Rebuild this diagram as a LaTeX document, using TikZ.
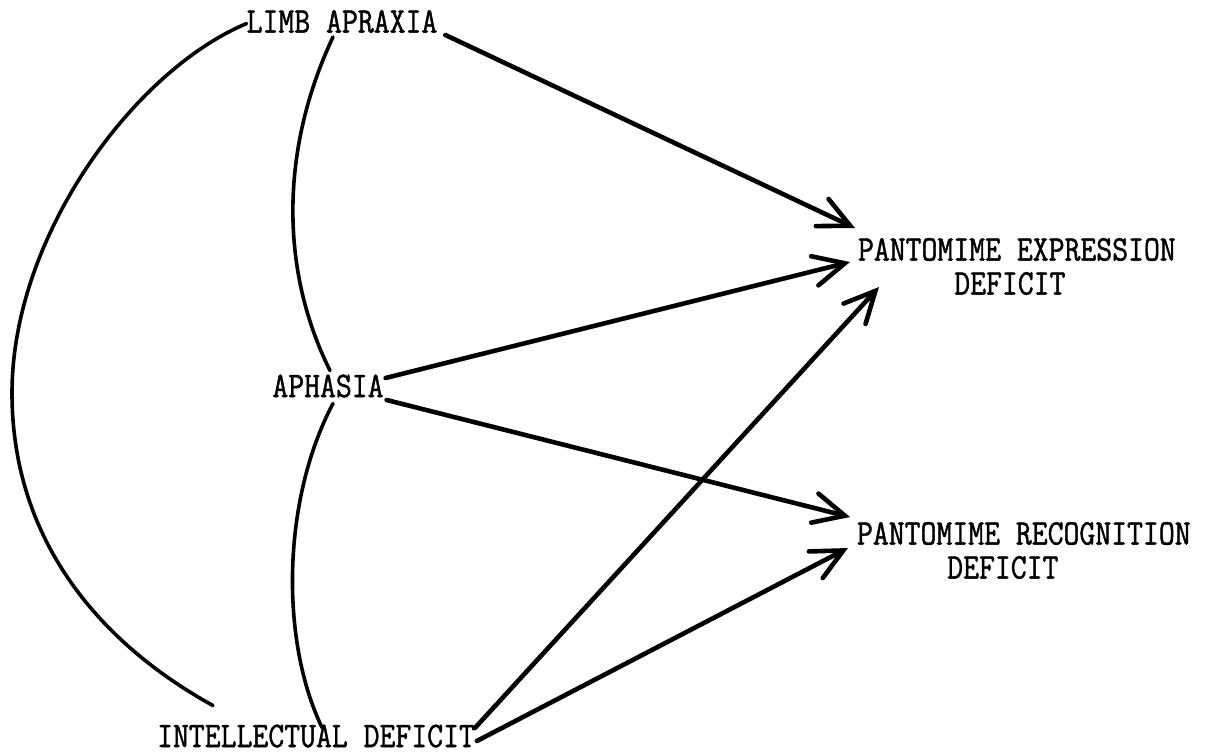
\documentclass[tikz,border=0pt]{standalone}
\usepackage{fontspec}
\usetikzlibrary{arrows.meta}
\newfontfamily\twfont[FakeBold=1.2,FakeStretch=0.857]{Latin Modern Mono}
\tikzset{
  lbl/.style={inner sep=0pt, outer sep=0pt, font=\fontsize{36}{34}\selectfont\twfont, align=center},
  arr/.style={line width=4.6pt, line cap=round, -{Straight Barb[length=31pt,width=30pt,line cap=round]}},
  link/.style={line width=3.6pt, line cap=round}
}
\begin{document}
\begin{tikzpicture}[x=1pt,y=-1pt]
\useasboundingbox (0,0) rectangle (1217,753);
\node[lbl] (limb) at (342,21.5) {LIMB APRAXIA};
\node[lbl] (aph) at (328,386) {APHASIA};
\node[lbl] (int) at (316,736) {INTELLECTUAL DEFICIT};
\node[lbl,anchor=west] (pe) at (858,266.5) {PANTOMIME EXPRESSION\\DEFICIT\hspace*{14pt}};
\node[lbl,anchor=west] (pr) at (857,550.5) {PANTOMIME RECOGNITION\\DEFICIT\hspace*{42pt}};
% undirected links
\draw[link] ([shift={(0,2)}]limb.west) .. controls (135,70) and (12,235) .. (12,393)
  .. controls (12,543) and (103,645) .. ([shift={(-103,-19)}]int.north);
\draw[link] ([shift={(-9,4)}]limb.south) .. controls (280,150) and (280,270) .. ([shift={(2,-4)}]aph.north);
\draw[link] ([shift={(5,6)}]aph.south) .. controls (282,500) and (280,640) .. ([shift={(6,3)}]int.north);
% arrows
\draw[arr] ([shift={(8,2)}]limb.south east) -- ([shift={(-3,-38.5)}]pe.west);
\draw[arr] ([shift={(2,-8)}]aph.east) -- ([shift={(-8,-4.5)}]pe.west);
\draw[arr] ([shift={(3,14)}]aph.east) -- ([shift={(-7,-33.5)}]pr.west);
\draw[arr] ([shift={(0,-8)}]int.east) -- ([shift={(21,20.5)}]pe.west);
\draw[arr] ([shift={(2,5)}]int.east) -- ([shift={(-9,-2.5)}]pr.west);
\end{tikzpicture}
\end{document}
